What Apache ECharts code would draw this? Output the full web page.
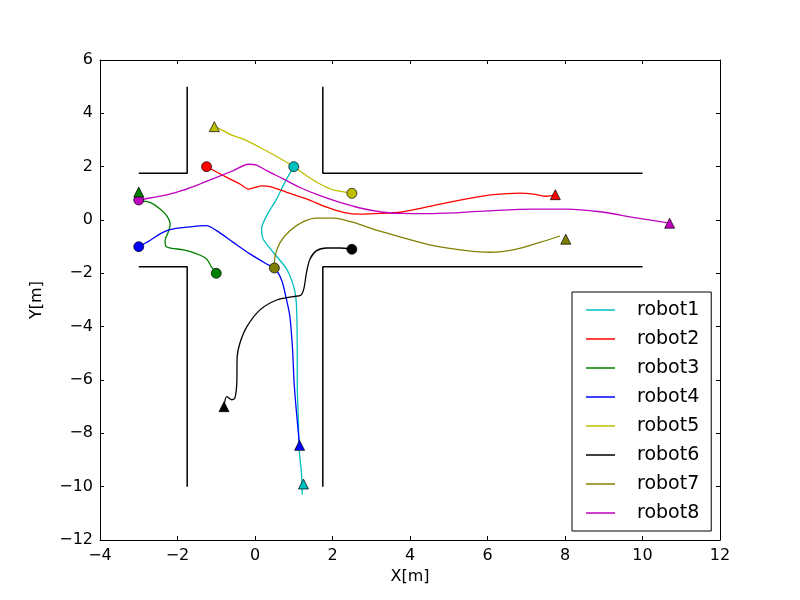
<!DOCTYPE html>
<html>
<head>
    <meta charset="utf-8">
    <title>robots</title>
    <script src="https://cdn.jsdelivr.net/npm/echarts@6/dist/echarts.min.js"></script>
</head>
<body style="margin:0">
<div id="main" style="width: 800px;height:600px;"></div>
<script type="text/javascript">
    // trajectories [x, y] in metres
    var robot1 = [[1, 2], [0.77, 1.41], [0.56, 0.79], [0.30, 0.16], [0.17, -0.34], [0.21, -0.71], [0.47, -1.21],
        [0.82, -1.85], [1.0, -2.5], [1.06, -3.0], [1.08, -3.62], [1.09, -5], [1.09, -6.12], [1.12, -7.5],
        [1.14, -8.61], [1.2, -9.5], [1.22, -10.3]];
    var robot2 = [[-1.25, 2], [-0.73, 1.60], [-0.39, 1.35], [-0.17, 1.16], [0, 1.22], [0.17, 1.28], [0.39, 1.25],
        [0.82, 1.04], [1.33, 0.79], [1.85, 0.48], [2.28, 0.29], [2.71, 0.22], [3.31, 0.25], [3.74, 0.29],
        [4.60, 0.54], [5.46, 0.79], [6.15, 0.95], [6.84, 1.01], [7.18, 0.97], [7.53, 0.89], [7.75, 0.95]];
    var robot3 = [[-3, 0.72], [-2.71, 0.66], [-2.45, 0.41], [-2.28, 0.16], [-2.19, -0.15], [-2.24, -0.46],
        [-2.32, -0.77], [-2.30, -0.99], [-2.15, -1.06], [-1.85, -1.12], [-1.50, -1.27], [-1.25, -1.46],
        [-1.12, -1.77], [-1, -2]];
    var robot4 = [[-3, -1], [-2.71, -0.77], [-2.45, -0.52], [-2.19, -0.36], [-1.76, -0.27], [-1.25, -0.21],
        [-0.99, -0.40], [-0.56, -0.84], [-0.13, -1.27], [0.30, -1.65], [0.52, -1.83], [0.69, -2.27],
        [0.80, -2.9], [0.90, -3.62], [0.97, -4.87], [1.01, -6.12], [1.08, -7.37], [1.15, -8.45]];
    var robot5 = [[-1.05, 3.5], [-0.82, 3.35], [-0.60, 3.18], [-0.30, 3.03], [0.13, 2.72], [0.56, 2.38],
        [0.99, 2.01], [1.33, 1.66], [1.68, 1.35], [2.02, 1.13], [2.37, 1.04], [2.5, 1.0]];
    var robot6 = [[2.5, -1.1], [2.19, -1.05], [1.85, -1.05], [1.59, -1.15], [1.42, -1.46], [1.33, -1.96],
        [1.26, -2.58], [1.18, -2.82], [0.99, -2.87], [0.56, -3.0], [0.13, -3.37], [-0.21, -4.0],
        [-0.39, -4.62], [-0.46, -5.12], [-0.47, -6.12], [-0.52, -6.68], [-0.60, -6.74], [-0.73, -6.62], [-0.8, -7]];
    var robot7 = [[0.5, -1.8], [0.52, -1.34], [0.65, -0.84], [0.90, -0.40], [1.25, -0.06], [1.59, 0.07],
        [2.02, 0.07], [2.54, -0.09], [3.05, -0.34], [3.74, -0.63], [4.60, -0.96], [5.46, -1.15],
        [6.06, -1.21], [6.75, -1.09], [7.35, -0.84], [7.87, -0.6]];
    var robot8 = [[-3, 0.75], [-2.62, 0.85], [-2.28, 0.94], [-1.85, 1.12], [-1.42, 1.35], [-0.99, 1.60],
        [-0.56, 1.85], [-0.17, 2.09], [0.04, 2.06], [0.30, 1.85], [0.73, 1.54], [1.16, 1.22], [1.68, 0.91],
        [2.19, 0.66], [2.71, 0.45], [3.31, 0.29], [3.74, 0.25], [4.60, 0.24], [5.89, 0.33], [7.18, 0.41],
        [8.04, 0.41], [8.90, 0.31], [9.76, 0.10], [10.7, -0.12]];

    var names = ['robot1', 'robot2', 'robot3', 'robot4', 'robot5', 'robot6', 'robot7', 'robot8'];
    var paths = [robot1, robot2, robot3, robot4, robot5, robot6, robot7, robot8];
    var colors = ['#00BFBF', '#FF0000', '#008000', '#0000FF', '#BFBF00', '#000000', '#808000', '#BF00BF'];

    // circle markers and triangle markers
    var startPts = [[1, 2], [-1.25, 2], [-1, -2], [-3, -1], [2.5, 1], [2.5, -1.1], [0.5, -1.8], [-3, 0.75]];
    var goalPts = [[1.25, -9.9], [7.75, 0.95], [-3, 1.05], [1.15, -8.45], [-1.05, 3.5], [-0.8, -7], [8.02, -0.72], [10.7, -0.12]];

    // corridor walls
    var wallTL = [[-3, 1.75], [-1.75, 1.75], [-1.75, 5]];
    var wallTR = [[1.75, 5], [1.75, 1.75], [10, 1.75]];
    var wallBL = [[-3, -1.75], [-1.75, -1.75], [-1.75, -10]];
    var wallBR = [[1.75, -10], [1.75, -1.75], [10, -1.75]];

    var xTicks = [-4, 12, 2];
    var yTicks = [-12, 6, 2];

    var fnt = 'DejaVu Sans';
    function minus(v) { return String(v).replace('-', '\u2212'); }

    var series = [];
    [wallTL, wallTR, wallBL, wallBR].forEach(function (w) {
        series.push({
            type: 'line', data: w, symbol: 'none', silent: true,
            lineStyle: {color: '#000', width: 1.5}, z: 1
        });
    });
    for (var i = 0; i < paths.length; i++) {
        series.push({
            name: names[i], type: 'line', data: paths[i], symbol: 'none', smooth: 0.3,
            lineStyle: {color: colors[i], width: 1.3}, itemStyle: {color: colors[i]}, z: 2
        });
    }
    var circ = [], tri = [];
    for (var j = 0; j < startPts.length; j++) {
        circ.push({value: startPts[j], itemStyle: {color: colors[j]}});
        tri.push({value: goalPts[j], itemStyle: {color: colors[j]}});
    }
    series.push({
        type: 'scatter', data: circ, symbol: 'circle', symbolSize: 10, z: 3,
        itemStyle: {borderColor: '#000', borderWidth: 0.7, opacity: 1}
    });
    series.push({
        type: 'scatter', data: tri, symbol: 'triangle', symbolSize: 10, z: 3,
        itemStyle: {borderColor: '#000', borderWidth: 0.7, opacity: 1}
    });

    var axLine = {show: true, onZero: false, lineStyle: {color: '#000', width: 1}};
    var tick = {show: true, inside: true, length: 4, lineStyle: {color: '#000'}};

    var chart = echarts.init(document.getElementById('main'));
    chart.setOption({
        animation: false,
        backgroundColor: '#fff',
        grid: {left: 100, right: 80, top: 60, bottom: 60},
        legend: {
            data: names, orient: 'vertical', left: 572, top: 292,
            icon: 'rect', itemWidth: 29, itemHeight: 1.5, itemGap: 9,
            padding: [8, 12, 8, 14],
            borderColor: '#000', borderWidth: 1, borderRadius: 0,
            textStyle: {fontFamily: fnt, fontSize: 19, lineHeight: 20, color: '#000', padding: [0, 0, 0, 17]}
        },
        xAxis: [{
            type: 'value', min: xTicks[0], max: xTicks[1], interval: xTicks[2],
            name: 'X[m]', nameLocation: 'middle', nameGap: 28,
            nameTextStyle: {fontFamily: fnt, fontSize: 16, color: '#000'},
            axisLine: axLine, axisTick: tick, splitLine: {show: false},
            axisLabel: {fontFamily: fnt, fontSize: 16, color: '#000', margin: 8, formatter: minus}
        }, {
            type: 'value', position: 'top', min: xTicks[0], max: xTicks[1], interval: xTicks[2],
            axisLine: axLine, axisTick: tick, splitLine: {show: false}, axisLabel: {show: false}
        }],
        yAxis: [{
            type: 'value', min: yTicks[0], max: yTicks[1], interval: yTicks[2],
            name: 'Y[m]', nameLocation: 'middle', nameGap: 55,
            nameTextStyle: {fontFamily: fnt, fontSize: 16, color: '#000'},
            axisLine: axLine, axisTick: tick, splitLine: {show: false},
            axisLabel: {fontFamily: fnt, fontSize: 16, color: '#000', margin: 7, formatter: minus}
        }, {
            type: 'value', position: 'right', min: yTicks[0], max: yTicks[1], interval: yTicks[2],
            axisLine: axLine, axisTick: tick, splitLine: {show: false}, axisLabel: {show: false}
        }],
        series: series
    });
</script>
</body>
</html>
